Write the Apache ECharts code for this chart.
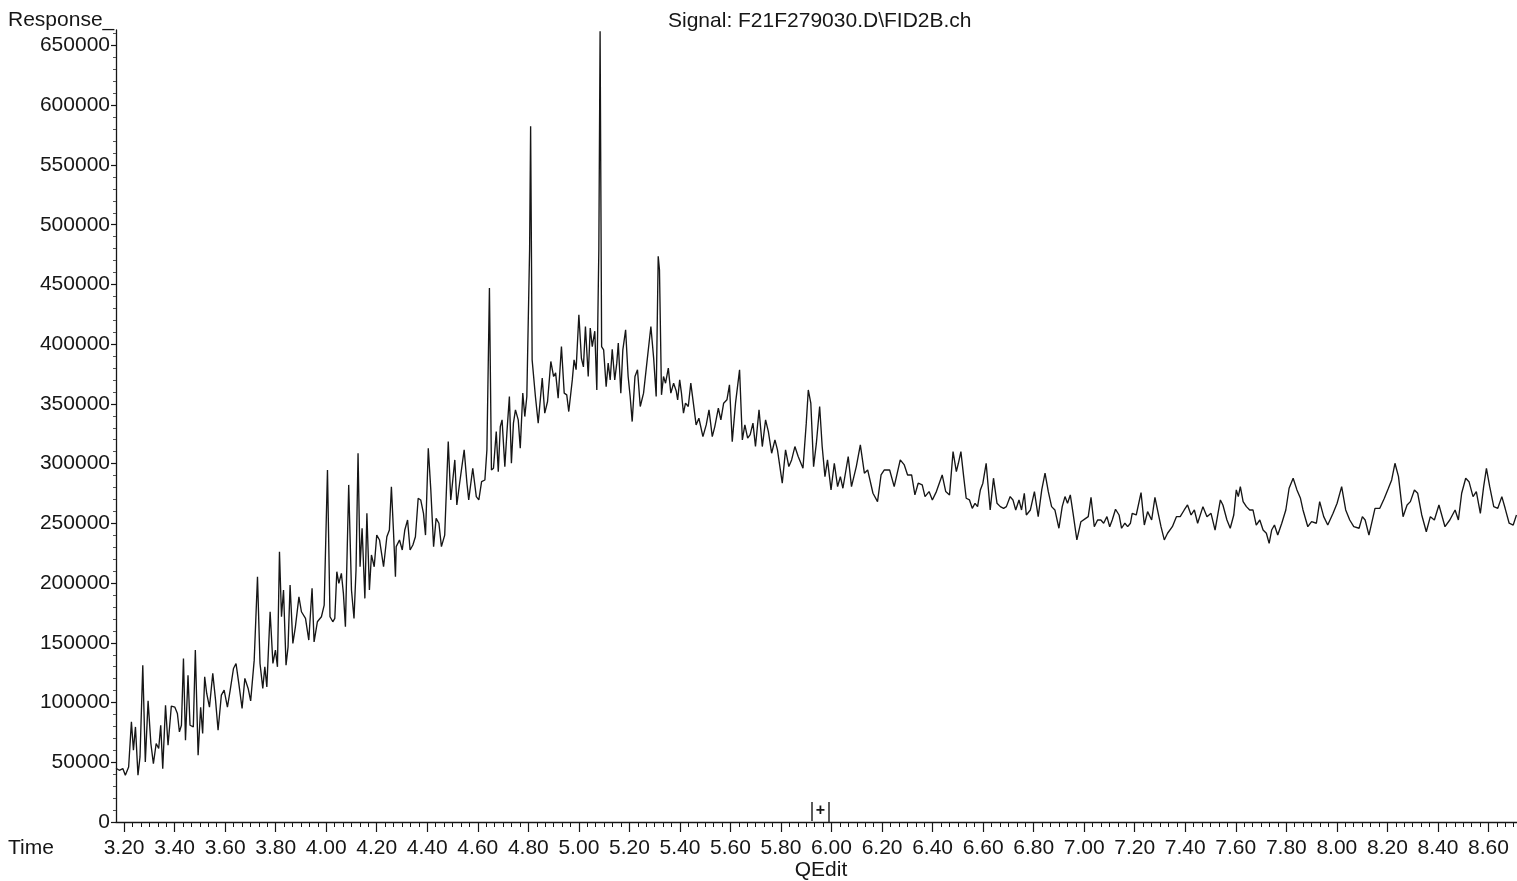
<!DOCTYPE html>
<html>
<head>
<meta charset="utf-8">
<script src="https://cdn.jsdelivr.net/npm/echarts@6/dist/echarts.min.js"></script>
<style>
html,body{margin:0;padding:0;background:#fff;}
#chart{width:1517px;height:881px;}
</style>
</head>
<body>
<div id="chart"></div>
<script>
// Retention time (min)
const time = [
3.168,3.181,3.195,3.205,3.218,3.229,3.237,3.245,3.255,3.263,3.274,3.284,3.295,3.306,3.316,3.327,3.337,3.345,3.353,3.364,
3.374,3.387,3.401,3.411,3.419,3.427,3.435,3.443,3.453,3.461,3.474,3.482,3.493,3.503,3.511,3.519,3.527,3.538,3.551,3.562,
3.572,3.585,3.596,3.609,3.620,3.633,3.643,3.654,3.667,3.678,3.691,3.701,3.715,3.728,3.738,3.749,3.757,3.765,3.778,3.789,
3.799,3.807,3.815,3.823,3.831,3.841,3.849,3.857,3.868,3.878,3.892,3.902,3.918,3.931,3.944,3.952,3.965,3.981,3.992,4.005,
4.015,4.026,4.034,4.042,4.050,4.060,4.068,4.076,4.089,4.100,4.110,4.118,4.126,4.134,4.142,4.153,4.161,4.171,4.179,4.190,
4.200,4.211,4.227,4.240,4.250,4.258,4.266,4.274,
4.277,4.290,4.301,4.311,4.322,4.332,4.343,4.353,4.364,4.374,4.385,4.393,4.404,4.414,4.425,4.435,4.446,4.456,4.469,4.483,
4.493,4.509,4.517,4.528,4.546,4.557,4.564,4.580,4.594,4.604,4.615,4.628,4.636,4.646,4.654,4.662,4.673,4.681,4.689,4.696,
4.707,4.715,4.725,4.733,4.741,4.749,4.760,4.768,4.778,4.786,4.794,4.805,4.809,4.815,4.828,4.839,4.855,4.865,4.876,4.889,
4.900,4.908,4.918,4.931,4.942,4.952,4.960,4.974,4.981,4.989,5.000,5.010,5.018,5.026,5.037,5.045,5.053,5.063,5.071,5.079,
5.084,5.090,5.098,5.108,5.116,5.124,5.132,5.142,5.150,5.156,5.166,5.174,5.185,5.195,5.203,5.211,5.222,5.232,5.243,5.256,
5.269,5.285,5.296,5.306,5.314,5.319,5.327,5.335,5.343,5.354,5.364,5.375,5.385,
5.391,5.399,5.406,5.414,5.422,5.433,5.443,5.454,5.464,5.475,5.491,5.504,5.515,5.528,5.538,5.552,5.562,5.573,5.586,5.596,
5.607,5.620,5.636,5.647,5.657,5.668,5.678,5.689,5.699,5.713,5.726,5.739,5.750,5.763,5.776,5.786,5.805,5.818,5.831,5.842,
5.855,5.868,5.887,5.900,5.908,5.918,5.929,5.940,5.953,5.963,5.974,5.984,5.998,6.011,6.024,6.035,6.045,6.066,6.079,6.098,
6.114,6.130,6.143,6.164,6.182,6.196,6.209,6.230,6.248,6.272,6.288,6.301,6.317,6.330,6.343,6.359,6.370,6.386,6.399,6.415,
6.438,6.452,6.467,6.481,6.494,
6.502,6.512,6.523,6.533,6.546,6.557,6.568,6.578,6.589,6.599,6.612,6.628,6.641,6.655,6.668,6.681,6.692,6.707,6.718,6.729,
6.742,6.752,6.763,6.771,6.787,6.803,6.818,6.832,6.845,6.858,6.871,6.884,6.900,6.913,6.924,6.934,6.945,6.956,6.971,6.987,
7.006,7.016,7.027,7.040,7.053,7.066,7.077,7.090,7.101,7.111,7.124,7.138,7.148,7.161,7.172,7.183,7.190,7.206,7.225,7.238,
7.251,7.267,7.280,7.293,7.304,7.317,7.330,7.349,7.365,7.380,7.396,7.409,7.423,7.436,7.449,7.470,7.486,7.502,7.518,7.539,
7.549,7.565,7.578,7.592,7.602,
7.610,7.618,7.629,7.642,7.655,7.668,7.681,7.695,7.708,7.721,7.732,7.742,7.753,7.766,7.782,7.798,7.811,7.827,7.842,7.856,
7.866,7.885,7.900,7.919,7.932,7.948,7.964,7.985,8.001,8.019,8.035,8.051,8.067,8.088,8.101,8.112,8.127,8.151,8.170,8.188,
8.204,8.217,8.230,8.244,8.262,8.278,8.291,8.307,8.320,8.336,8.354,8.370,8.386,8.404,8.428,8.447,8.468,8.481,8.494,8.510,
8.523,8.539,8.552,8.568,8.581,8.592,8.605,8.621,8.637,8.653,8.666,8.682,8.698,8.711
];

// Detector response
const response = [
45000,43300,44700,39100,46000,83800,60100,79600,39100,54500,131300,50300,101400,65700,48900,65700,61500,81000,44700,97800,
64300,97000,96100,90800,75400,81000,136900,68500,122900,81000,79600,143900,55900,96100,74100,121500,107600,96100,124400,102000,
76800,106200,110400,96100,110400,128500,132700,116000,95000,120200,111800,101400,135500,205300,132700,111800,129900,113100,176000,132700,
143900,129900,226300,171800,194200,131300,146600,198400,149500,163400,188500,176000,170400,152300,195600,150800,167600,171800,181600,294700,
171800,167600,170400,209500,199800,208200,191400,163400,282200,194200,170400,210900,308700,213700,245900,187200,258400,194200,223500,213700,
240200,236100,213700,238800,244400,280700,244400,205300,
230500,236100,227700,244400,252800,227700,231900,238800,271000,269600,258400,240200,312900,278000,230500,254200,250100,230500,240200,318400,
269600,303100,265400,283600,311500,283600,269600,296100,272400,269600,284900,286300,311500,447000,294700,296100,326800,293300,331000,336600,
297500,325500,356200,300300,333900,345000,336600,312900,359000,339400,356200,479100,582400,386900,356200,333900,371600,342200,352000,385500,
372900,376000,354800,398000,359000,357600,343600,370100,386900,378600,424600,388200,381000,414800,372900,413500,398000,410900,361700,479100,
662000,398000,395200,364500,384100,370100,395700,370100,384100,400900,359000,395200,412000,372900,356200,335200,372900,378600,347800,359000,
384100,414800,388200,356200,473500,462300,357600,372900,367300,379900,359000,367300,361000,
353400,370100,359000,342200,350600,347800,367400,349200,332400,338000,322600,332400,345000,322600,331000,346400,336600,350600,353400,366000,
318400,350600,378500,319900,332400,321300,324300,333900,314300,345000,314300,336600,326800,308700,319900,311500,283600,311500,297500,303100,
314300,305900,296100,333900,361700,350600,297500,317100,347800,314300,289100,303100,278000,300300,280700,289100,279400,305900,280700,297500,
315700,292000,294700,275200,268200,290500,294700,294700,280700,303100,298900,290500,290500,273800,283600,282200,272400,276600,269600,276600,
290500,276600,273800,310100,293300,
300300,310100,289100,271000,269600,262600,266800,264000,278000,283600,300300,261200,287800,266800,264000,262600,264000,272400,269600,261200,
269600,261200,275200,257000,261200,276500,255600,278000,292000,276500,264000,261200,245900,264000,272400,266800,273800,258400,236100,251400,
254200,255600,271800,247200,252800,252800,250100,255600,247200,252800,261800,257000,245900,250100,247200,250100,258400,257000,275700,248600,
259800,252800,271800,258400,247200,236100,241700,247200,255600,255600,261200,265400,257000,261200,250100,264000,255600,258400,244400,269600,
265400,252800,245900,257000,278000,
272400,280700,268200,264000,261200,261200,248600,252800,244400,241700,233300,244400,248600,240200,250100,261200,279400,287800,278000,271000,
261200,247200,251400,250100,268200,255600,248600,258400,266800,280700,261200,252800,247200,245900,255600,252800,240200,262600,262600,271000,
279400,286300,300300,289100,255600,265400,268200,278000,275200,257000,243000,255600,252800,265400,247200,252800,261200,252800,275200,287800,
284900,272400,276500,258400,280700,296100,280700,264000,262600,272400,262600,250100,248600,257000
];

// Axis tick values
const xTickValues = [3.20,3.40,3.60,3.80,4.00,4.20,4.40,4.60,4.80,5.00,5.20,5.40,5.60,5.80,6.00,6.20,6.40,6.60,6.80,7.00,7.20,7.40,7.60,7.80,8.00,8.20,8.40,8.60];
const yTickValues = [0,50000,100000,150000,200000,250000,300000,350000,400000,450000,500000,550000,600000,650000];
const xRange = [3.168, 8.713];
const yRange = [0, 663000];

const titleText = 'Signal: F21F279030.D\\FID2B.ch';
const yName = 'Response_';
const xName = 'Time';
const footerText = 'QEdit';

// minor tick positions (2 s steps on time axis, 10000 on response axis)
const xMinor = [];
for (let i = 0; i <= 165; i++) { if (i % 6 !== 0) xMinor.push(+(3.2 + i / 30).toFixed(5)); }
const yMinor = [];
for (let v = 0; v <= 660000; v += 10000) { if (v % 50000 !== 0) yMinor.push(v); }

const FONT = '"Liberation Sans", Arial, sans-serif';
const INK = '#161616';

const pairs = time.map((t, i) => [t, response[i]]);

const chart = echarts.init(document.getElementById('chart'), null, {renderer: 'canvas'});
const gridBox = {left: 116, top: 30, right: 0, bottom: 59};
chart.setOption({
  animation: false,
  backgroundColor: '#ffffff',
  grid: [Object.assign({}, gridBox), Object.assign({}, gridBox)],
  xAxis: [
    {
      type: 'value', gridIndex: 0, min: xRange[0], max: xRange[1],
      axisLine: {show: true, onZero: false, lineStyle: {color: INK, width: 1.3}},
      axisTick: {show: true, customValues: xTickValues, length: 10, lineStyle: {color: INK, width: 1.2}},
      axisLabel: {customValues: xTickValues, formatter: v => v.toFixed(2), fontSize: 21, fontFamily: FONT, color: INK, margin: 16},
      splitLine: {show: false}
    },
    {
      type: 'value', gridIndex: 1, min: xRange[0], max: xRange[1],
      axisLine: {show: false},
      axisTick: {show: true, customValues: xMinor, length: 5, lineStyle: {color: INK, width: 1}},
      axisLabel: {show: false},
      splitLine: {show: false}
    }
  ],
  yAxis: [
    {
      type: 'value', gridIndex: 0, min: yRange[0], max: yRange[1],
      axisLine: {show: true, onZero: false, lineStyle: {color: INK, width: 1.3}},
      axisTick: {show: true, customValues: yTickValues, length: 5, lineStyle: {color: INK, width: 1.2}},
      axisLabel: {customValues: yTickValues, formatter: v => String(v), fontSize: 21, fontFamily: FONT, color: INK, margin: 6},
      splitLine: {show: false}
    },
    {
      type: 'value', gridIndex: 1, min: yRange[0], max: yRange[1],
      axisLine: {show: false},
      axisTick: {show: true, customValues: yMinor, length: 3, lineStyle: {color: '#555', width: 1}},
      axisLabel: {show: false},
      splitLine: {show: false}
    }
  ],
  series: [{
    type: 'line', xAxisIndex: 0, yAxisIndex: 0,
    data: pairs, showSymbol: false, symbol: 'none', silent: true,
    lineStyle: {color: INK, width: 1.35}
  }],
  graphic: [
    {type: 'text', left: 8, top: 10, style: {text: yName, font: '21px ' + FONT, fill: INK}},
    {type: 'text', left: 668, top: 11, style: {text: titleText, font: '21px ' + FONT, fill: INK}},
    {type: 'text', left: 8, top: 838, style: {text: xName, font: '21px ' + FONT, fill: INK}},
    {type: 'text', x: 821, y: 870, style: {text: footerText, font: '21px ' + FONT, fill: INK, align: 'center', verticalAlign: 'middle'}},
    {type: 'line', shape: {x1: 812, y1: 802, x2: 812, y2: 821}, style: {stroke: INK, lineWidth: 1.4}},
    {type: 'line', shape: {x1: 829, y1: 802, x2: 829, y2: 822}, style: {stroke: INK, lineWidth: 1.4}},
    {type: 'text', x: 820.5, y: 811, style: {text: '+', font: 'bold 16px ' + FONT, fill: INK, align: 'center', verticalAlign: 'middle'}}
  ]
});
</script>
</body>
</html>
